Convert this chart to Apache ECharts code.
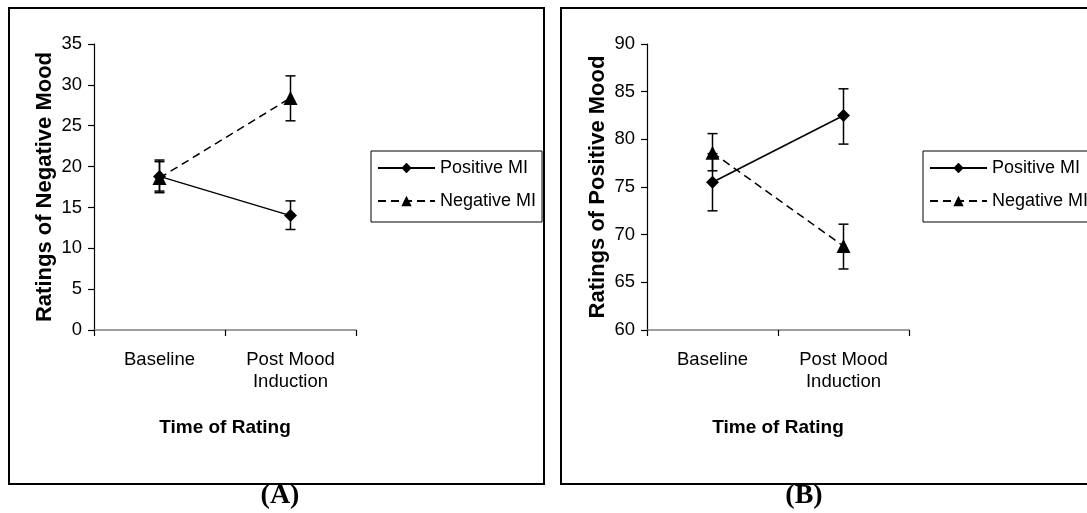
<!DOCTYPE html>
<html>
<head>
<meta charset="utf-8">
<script src="https://cdn.jsdelivr.net/npm/echarts@6/dist/echarts.min.js"></script>
<style>
html,body{margin:0;padding:0;background:#fff;}
#chart{width:1087px;height:513px;}
</style>
</head>
<body>
<div id="chart"></div>
<script>
// ---- data ----
const categories = ['Baseline', 'Post Mood\nInduction'];
const seriesNames = ['Positive MI', 'Negative MI'];

// Panel A: Ratings of Negative Mood
const negMoodPositiveMI = [18.8, 14.0];
const negMoodPositiveMIErr = [[17.0, 20.8], [12.3, 15.8]];
const negMoodNegativeMI = [18.6, 28.4];
const negMoodNegativeMIErr = [[16.8, 20.6], [25.6, 31.1]];

// Panel B: Ratings of Positive Mood
const posMoodPositiveMI = [75.5, 82.5];
const posMoodPositiveMIErr = [[72.5, 78.5], [79.5, 85.3]];
const posMoodNegativeMI = [78.6, 68.8];
const posMoodNegativeMIErr = [[76.7, 80.6], [66.4, 71.1]];

const yTicksA = {min: 0, max: 35, interval: 5};
const yTicksB = {min: 60, max: 90, interval: 5};

const yTitleA = 'Ratings of Negative Mood';
const yTitleB = 'Ratings of Positive Mood';
const xTitle = 'Time of Rating';
const panelLabels = ['(A)', '(B)'];

// ---- chart ----
const FONT = '"Liberation Sans", Arial, sans-serif';
const chart = echarts.init(document.getElementById('chart'), null, {renderer: 'canvas'});

function errData(errs) {
  return errs.map((e, i) => [i, e[0], e[1]]);
}
function errRender(params, api) {
  const x = api.value(0);
  const lo = api.coord([x, api.value(1)]);
  const hi = api.coord([x, api.value(2)]);
  const w = 5;
  const st = {stroke: '#000', lineWidth: 1.5};
  return {
    type: 'group',
    children: [
      {type: 'line', shape: {x1: lo[0], y1: lo[1], x2: hi[0], y2: hi[1]}, style: st},
      {type: 'line', shape: {x1: lo[0] - w, y1: lo[1], x2: lo[0] + w, y2: lo[1]}, style: st},
      {type: 'line', shape: {x1: hi[0] - w, y1: hi[1], x2: hi[0] + w, y2: hi[1]}, style: st}
    ]
  };
}

function xAxis(gi) {
  return {
    type: 'category', gridIndex: gi, data: categories, boundaryGap: true,
    axisLine: {lineStyle: {color: '#7f7f7f', width: 1.5}},
    axisTick: {show: true, alignWithLabel: false, length: 6, lineStyle: {color: '#000', width: 1.2}},
    axisLabel: {color: '#000', fontSize: 18.5, fontFamily: FONT, margin: 19, lineHeight: 22},
    name: xTitle, nameLocation: 'middle', nameGap: 88,
    nameTextStyle: {color: '#000', fontSize: 19, fontWeight: 'bold', fontFamily: FONT},
    splitLine: {show: false}
  };
}
function yAxis(gi, t, title) {
  return {
    type: 'value', gridIndex: gi, min: t.min, max: t.max, interval: t.interval,
    axisLine: {show: true, lineStyle: {color: '#000', width: 1.2}},
    axisTick: {show: true, length: 6, lineStyle: {color: '#000', width: 1.2}},
    axisLabel: {color: '#000', fontSize: 18.5, fontFamily: FONT, margin: 12},
    splitLine: {show: false},
    name: title, nameLocation: 'middle', nameGap: 38, nameRotate: 90,
    nameTextStyle: {color: '#000', fontSize: 22, fontWeight: 'bold', fontFamily: FONT}
  };
}
function lineSeries(name, data, gi, symbol, dashed) {
  return {
    type: 'line', name: name, data: data, xAxisIndex: gi, yAxisIndex: gi,
    symbol: symbol, symbolSize: symbol === 'triangle' ? 14 : 13,
    itemStyle: {color: '#000'},
    lineStyle: {color: '#000', width: 1.5, type: dashed ? [8, 5] : 'solid'},
    z: 3, animation: false
  };
}
function errSeries(name, errs, gi) {
  return {
    type: 'custom', name: name, data: errData(errs), xAxisIndex: gi, yAxisIndex: gi,
    renderItem: errRender, encode: {x: 0, y: [1, 2]}, z: 2, animation: false, silent: true
  };
}
function legend(left) {
  return {
    data: seriesNames, orient: 'vertical', left: left, top: 151,
    itemWidth: 57, itemHeight: 13, itemGap: 15,
    padding: [8, 6, 12, 6],
    borderColor: '#000', borderWidth: 1,
    textStyle: {color: '#000', fontSize: 18, fontFamily: FONT},
    selectedMode: false
  };
}

const option = {
  backgroundColor: '#fff',
  animation: false,
  grid: [
    {left: 94, top: 44, width: 262, height: 286},
    {left: 647, top: 44, width: 262, height: 286}
  ],
  xAxis: [xAxis(0), xAxis(1)],
  yAxis: [yAxis(0, yTicksA, yTitleA), yAxis(1, yTicksB, yTitleB)],
  legend: [legend(371), legend(923)],
  series: [
    lineSeries(seriesNames[0], negMoodPositiveMI, 0, 'diamond', false),
    lineSeries(seriesNames[1], negMoodNegativeMI, 0, 'triangle', true),
    errSeries('errA1', negMoodPositiveMIErr, 0),
    errSeries('errA2', negMoodNegativeMIErr, 0),
    lineSeries(seriesNames[0], posMoodPositiveMI, 1, 'diamond', false),
    lineSeries(seriesNames[1], posMoodNegativeMI, 1, 'triangle', true),
    errSeries('errB1', posMoodPositiveMIErr, 1),
    errSeries('errB2', posMoodNegativeMIErr, 1)
  ],
  graphic: [
    {type: 'rect', shape: {x: 9, y: 8, width: 535, height: 476}, style: {fill: 'none', stroke: '#000', lineWidth: 2}, z: 10},
    {type: 'rect', shape: {x: 561, y: 8, width: 560, height: 476}, style: {fill: 'none', stroke: '#000', lineWidth: 2}, z: 10},
    {type: 'text', x: 280, y: 496, style: {text: panelLabels[0], align: 'center', verticalAlign: 'middle', font: 'bold 28px "Liberation Serif", "Times New Roman", serif', fill: '#000'}},
    {type: 'text', x: 804, y: 496, style: {text: panelLabels[1], align: 'center', verticalAlign: 'middle', font: 'bold 28px "Liberation Serif", "Times New Roman", serif', fill: '#000'}}
  ]
};
chart.setOption(option);
</script>
</body>
</html>
